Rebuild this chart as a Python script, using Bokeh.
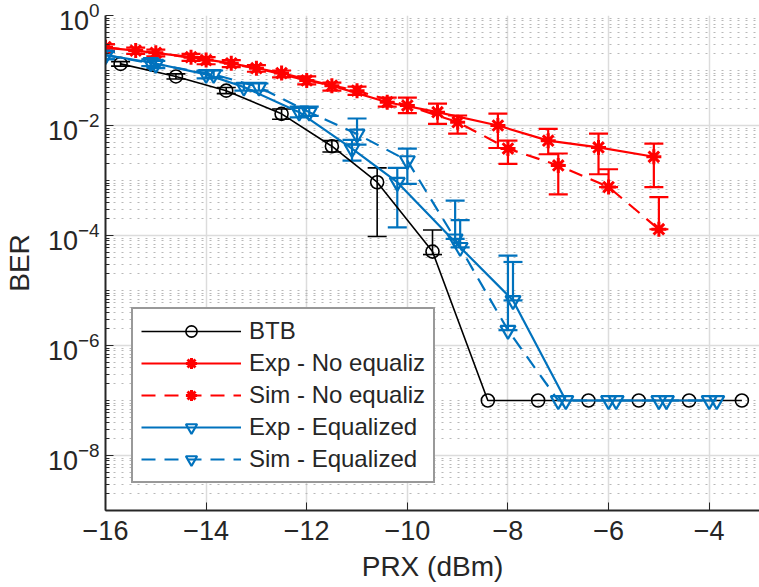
import numpy as np
from bokeh.plotting import figure
from bokeh.models import (ColumnDataSource, Whisker, TeeHead, FixedTicker,
                          SingleIntervalTicker, Legend, LegendItem, Range1d)
from bokeh.embed import file_html
from bokeh.resources import INLINE

# ---------------- data ----------------
btb_x = [-15.7, -14.6, -13.6, -12.5, -11.5, -10.6, -9.5, -8.4, -7.4, -6.4, -5.4, -4.4, -3.35]
btb_ber = [0.132, 0.078, 0.043, 0.0163, 0.0042, 9.3e-4, 5.1e-5, 1e-7, 1e-7, 1e-7, 1e-7, 1e-7, 1e-7]
btb_lo = [0.12, 0.07, 0.038, 0.013, 0.0033, 9.6e-5, 4.5e-5, 1e-7, 1e-7, 1e-7, 1e-7, 1e-7, 1e-7]
btb_hi = [0.145, 0.087, 0.049, 0.020, 0.0053, 1.7e-3, 1.26e-4, 1e-7, 1e-7, 1e-7, 1e-7, 1e-7, 1e-7]

expn_x = [-16, -15.4, -14.3, -13.5, -12.5, -11.5, -10.4, -9.4, -8.2, -7.2, -6.2, -5.1]
expn_ber = [0.26, 0.23, 0.175, 0.135, 0.09, 0.053, 0.0265, 0.0175, 0.010, 0.0053, 0.0040, 0.0027]
expn_lo = [0.22, 0.20, 0.15, 0.115, 0.075, 0.043, 0.022, 0.0107, 0.0039, 0.0030, 0.0013, 7.6e-4]
expn_hi = [0.30, 0.26, 0.20, 0.155, 0.10, 0.060, 0.032, 0.025, 0.0165, 0.0087, 0.0071, 0.0047]

simn_x = [-16, -15, -14, -13, -12, -11, -10, -9, -8, -7, -6, -5]
simn_ber = [0.265, 0.21, 0.155, 0.11, 0.066, 0.043, 0.023, 0.0115, 0.0038, 0.00188, 7.6e-4, 1.3e-4]
simn_lo = [0.23, 0.18, 0.13, 0.095, 0.056, 0.036, 0.0168, 0.0071, 0.0020, 5.6e-4, 7.6e-4, 1.3e-4]
simn_hi = [0.30, 0.24, 0.175, 0.125, 0.078, 0.051, 0.032, 0.0152, 0.0053, 0.0031, 0.0016, 5e-4]

expe_x = [-16, -15.1, -14.0, -13.25, -12.15, -11.1, -10.2, -8.95, -7.9, -6.85, -5.85, -4.85, -3.85]
expe_ber = [0.19, 0.14, 0.085, 0.050, 0.0175, 0.0038, 9.3e-4, 6.1e-5, 6.6e-6, 1e-7, 1e-7, 1e-7, 1e-7]
expe_lo = [0.16, 0.12, 0.072, 0.043, 0.014, 0.0023, 1.4e-4, 6.1e-5, 6.6e-6, 1e-7, 1e-7, 1e-7, 1e-7]
expe_hi = [0.22, 0.16, 0.10, 0.058, 0.022, 0.0055, 1.7e-3, 1.9e-4, 3.3e-5, 1e-7, 1e-7, 1e-7, 1e-7]

sime_x = [-16, -15, -13.85, -12.95, -11.95, -11.0, -10.0, -9.05, -8.0, -7.0, -6.0, -5.0, -4.0]
sime_ber = [0.19, 0.13, 0.085, 0.050, 0.0175, 0.0070, 2.3e-3, 8.7e-5, 1.9e-6, 1e-7, 1e-7, 1e-7, 1e-7]
sime_lo = [0.16, 0.11, 0.075, 0.043, 0.015, 0.0045, 8.7e-4, 8.7e-5, 1.9e-6, 1e-7, 1e-7, 1e-7, 1e-7]
sime_hi = [0.22, 0.15, 0.10, 0.058, 0.022, 0.0134, 3.8e-3, 4.3e-4, 4.3e-5, 1e-7, 1e-7, 1e-7, 1e-7]

labels = ["BTB", "Exp - No equaliz", "Sim - No equaliz", "Exp - Equalized", "Sim - Equalized"]

# ---------------- figure ----------------
FONT = "Liberation Sans"
TXT = "#262626"
p = figure(width=759, height=587, y_axis_type="log",
           x_range=Range1d(-16, -3), y_range=Range1d(1e-9, 1),
           output_backend="svg", toolbar_location=None,
           min_border_left=104, min_border_right=0, min_border_top=15, min_border_bottom=77)
p.outline_line_color = None
p.background_fill_color = "white"

p.xaxis.ticker = SingleIntervalTicker(interval=2, num_minor_ticks=0)
major_y = [10.0 ** k for k in range(-8, 1, 2)]
minor_y = [m * 10.0 ** k for k in range(-9, 0) for m in range(1, 10)
           if not (m == 1 and k % 2 == 0)]
p.yaxis.ticker = FixedTicker(ticks=major_y, minor_ticks=minor_y)

for ax in (p.xaxis, p.yaxis):
    ax.axis_line_color = TXT
    ax.axis_line_width = 2
    ax.major_tick_line_color = TXT
    ax.minor_tick_line_color = TXT
    ax.major_tick_in = 8
    ax.major_tick_out = 0
    ax.minor_tick_in = 4
    ax.minor_tick_out = 0
    ax.major_label_text_font = FONT
    ax.major_label_text_font_size = "27px"
    ax.major_label_text_color = TXT
    ax.axis_label_text_font = FONT
    ax.axis_label_text_font_size = "28px"
    ax.axis_label_text_font_style = "normal"
    ax.axis_label_text_color = TXT
p.xaxis.axis_label = "PRX (dBm)"
p.yaxis.axis_label = "BER"
p.xaxis.major_label_standoff = 10
p.yaxis.major_label_standoff = 6
p.xaxis.axis_label_standoff = 8
p.yaxis.axis_label_standoff = 10

p.xgrid.grid_line_color = "#dcdcdc"
p.xgrid.grid_line_width = 1.5
p.ygrid.grid_line_color = "#dcdcdc"
p.ygrid.grid_line_width = 1.5
p.ygrid.minor_grid_line_color = "#b8b8b8"
p.ygrid.minor_grid_line_dash = "2 6"
p.ygrid.minor_grid_line_width = 1.2

RED = "#FF0000"
BLUE = "#0072BD"
BLACK = "#000000"

def whiskers(xs, lo, hi, color, lw):
    keep = [i for i in range(len(xs)) if hi[i] > lo[i] * 1.0001]
    src = ColumnDataSource(dict(x=[xs[i] for i in keep], lo=[lo[i] for i in keep],
                                hi=[hi[i] for i in keep]))
    w = Whisker(source=src, base="x", lower="lo", upper="hi", dimension="height",
                line_color=color, line_width=lw,
                lower_head=TeeHead(size=19, line_color=color, line_width=lw),
                upper_head=TeeHead(size=19, line_color=color, line_width=lw))
    p.add_layout(w)

series = [
    (btb_x, btb_ber, btb_lo, btb_hi, BLACK, "solid", "circle", 13, 1.6),
    (expn_x, expn_ber, expn_lo, expn_hi, RED, "solid", "asterisk", 15, 2.2),
    (simn_x, simn_ber, simn_lo, simn_hi, RED, "14 9", "asterisk", 15, 2.2),
    (expe_x, expe_ber, expe_lo, expe_hi, BLUE, "solid", "inverted_triangle", 15, 2.2),
    (sime_x, sime_ber, sime_lo, sime_hi, BLUE, "14 9", "inverted_triangle", 15, 2.2),
]

items = []
for (xs, ys, lo, hi, col, dash, mk, sz, lw), lab in zip(series, labels):
    src = ColumnDataSource(dict(x=xs, y=ys))
    r1 = p.line("x", "y", source=src, line_color=col, line_width=lw, line_dash=dash)
    whiskers(xs, lo, hi, col, lw)
    r2 = p.scatter("x", "y", source=src, marker=mk, size=sz, line_color=col,
                   line_width=lw if mk != "asterisk" else 3, fill_color=None)
    items.append(LegendItem(label=lab, renderers=[r1, r2]))

legend = Legend(items=items, location=(26, 27))
legend.glyph_width = 100
legend.glyph_height = 28
legend.label_height = 28
legend.label_standoff = 8
legend.padding = 8
legend.spacing = 4
legend.margin = 0
legend.border_line_color = "#333333"
legend.border_line_width = 2
legend.background_fill_color = "white"
legend.background_fill_alpha = 1
legend.label_text_font = FONT
legend.label_text_font_size = "24px"
legend.label_text_color = TXT
p.add_layout(legend)

open("out.html", "w").write(file_html(p, INLINE))
